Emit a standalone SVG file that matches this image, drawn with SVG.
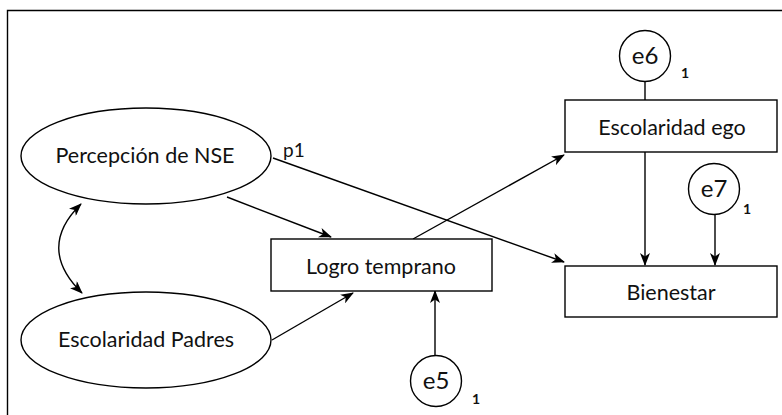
<svg xmlns="http://www.w3.org/2000/svg" width="782" height="415" viewBox="0 0 782 415">
  <style>
    .shape { fill: #ffffff; stroke: #000000; stroke-width: 1.4; }
    .edge { fill: none; stroke: #000000; stroke-width: 1.4; }
    .label { font-family: Lato, "Open Sans", sans-serif; font-size: 21.5px; fill: #111111; text-anchor: middle; }
    .err { font-family: Lato, "Open Sans", sans-serif; font-size: 24px; fill: #111111; text-anchor: middle; }
    .small { font-family: Lato, "Open Sans", sans-serif; font-size: 14px; font-weight: bold; fill: #111111; text-anchor: middle; }
  </style>
  <defs>
    <marker id="arrow" viewBox="0 0 13 10" refX="12" refY="5" markerWidth="13" markerHeight="10" markerUnits="userSpaceOnUse" orient="auto-start-reverse">
      <path d="M0,0 L13,5 L0,10 L3.5,5 Z" fill="#000000"/>
    </marker>
  </defs>
  <rect width="782" height="415" fill="#ffffff"/>
  <!-- frame -->
  <path d="M7.5,415 V10.5 H782" fill="none" stroke="#000000" stroke-width="1.4"/>

  <g id="connectors">
    <path class="edge" d="M81,204 Q36,248 82,293" marker-start="url(#arrow)" marker-end="url(#arrow)"/>
    <line class="edge" x1="227" y1="197" x2="331" y2="237" marker-end="url(#arrow)"/>
    <line class="edge" x1="272" y1="340" x2="353" y2="293" marker-end="url(#arrow)"/>
    <line class="edge" x1="273" y1="158" x2="564" y2="262" marker-end="url(#arrow)"/>
    <line class="edge" x1="413" y1="239" x2="564" y2="155" marker-end="url(#arrow)"/>
    <line class="edge" x1="435" y1="355" x2="435" y2="291" marker-end="url(#arrow)"/>
    <line class="edge" x1="645" y1="82" x2="645" y2="100"/>
    <line class="edge" x1="645" y1="152" x2="645" y2="265" marker-end="url(#arrow)"/>
    <line class="edge" x1="715" y1="214" x2="715" y2="265" marker-end="url(#arrow)"/>
    <text class="label" x="283" y="157" style="font-size:19px;text-anchor:start">p1</text>
  </g>

  <g id="percepcion">
    <ellipse class="shape" cx="146" cy="156" rx="125" ry="48"/>
    <text class="label" x="145" y="163">Percepción de NSE</text>
  </g>
  <g id="escolaridad-padres">
    <ellipse class="shape" cx="146" cy="340" rx="125" ry="48"/>
    <text class="label" x="146" y="347">Escolaridad Padres</text>
  </g>
  <g id="logro">
    <rect class="shape" x="271" y="239" width="221" height="52"/>
    <text class="label" x="381" y="274">Logro temprano</text>
  </g>
  <g id="escolaridad-ego">
    <rect class="shape" x="565" y="100" width="212" height="52"/>
    <text class="label" x="672" y="135">Escolaridad ego</text>
  </g>
  <g id="bienestar">
    <rect class="shape" x="565" y="266" width="212" height="51"/>
    <text class="label" x="671" y="300">Bienestar</text>
  </g>
  <g id="e6">
    <circle class="shape" cx="645" cy="56" r="25.5"/>
    <text class="err" x="645" y="64">e6</text>
    <text class="small" x="685" y="78">1</text>
  </g>
  <g id="e7">
    <circle class="shape" cx="714" cy="189" r="25.5"/>
    <text class="err" x="714" y="197">e7</text>
    <text class="small" x="747" y="214">1</text>
  </g>
  <g id="e5">
    <circle class="shape" cx="436" cy="381" r="25.5"/>
    <text class="err" x="436" y="389">e5</text>
    <text class="small" x="476" y="404">1</text>
  </g>
</svg>
